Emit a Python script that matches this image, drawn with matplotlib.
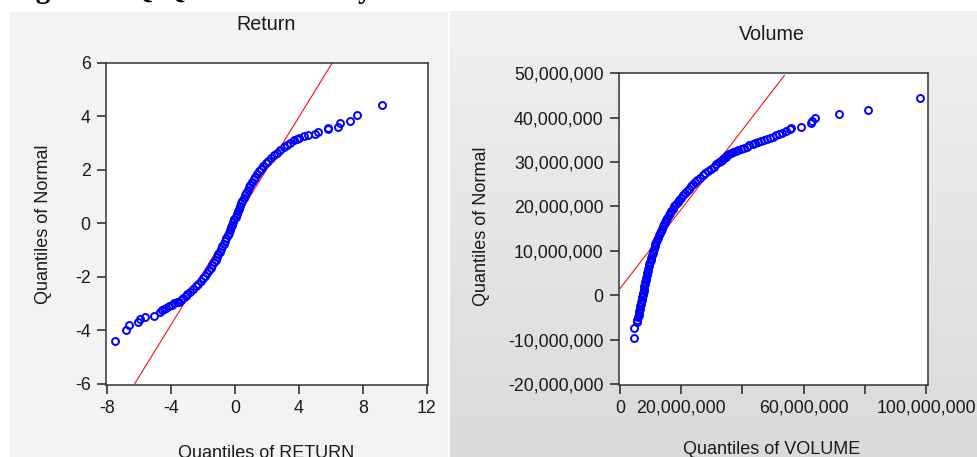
import matplotlib
matplotlib.use("Agg")
import matplotlib.pyplot as plt
import numpy as np
from matplotlib.patches import Rectangle

plt.rcParams['font.family'] = ['Liberation Sans', 'DejaVu Sans']

# ---------------- data ----------------
# Return panel: x = quantiles of RETURN, y = quantiles of Normal
ret_x = [-7.54, -6.81, -6.63, -6.10, -5.94, -5.63, -5.10, -4.73, -4.55, -4.48,
         -4.33, -4.15, -3.96, -3.80, -3.65, -3.54, -3.40, -3.23, -3.10,
         -2.98, -2.80, -2.62, -2.46, -2.31, -2.16, -2.01, -1.88, -1.76, -1.64,
         -1.53, -1.42, -1.32, -1.22, -1.13, -1.04, -0.95, -0.87, -0.79, -0.71,
         -0.63, -0.55, -0.47, -0.40, -0.32, -0.25, -0.18, -0.11, -0.04, 0.03,
         0.10, 0.17, 0.24, 0.31, 0.38, 0.45, 0.53, 0.61, 0.69, 0.78,
         0.87, 0.96, 1.06, 1.16, 1.27, 1.39, 1.51, 1.64, 1.78, 1.93,
         2.09, 2.26, 2.44, 2.63, 2.83, 3.04, 3.25, 3.45,
         3.69, 3.85, 4.02, 4.31, 4.55, 5.00, 5.20, 5.79, 5.79, 6.46,
         6.60, 7.19, 7.65, 9.17]
ret_y = [-4.39, -4.00, -3.79, -3.69, -3.58, -3.51, -3.46, -3.32, -3.25, -3.21,
         -3.15, -3.10, -3.05, -2.99, -2.95, -2.92, -2.86, -2.80, -2.73,
         -2.65, -2.55, -2.45, -2.35, -2.25, -2.15, -2.05, -1.95, -1.85, -1.75,
         -1.65, -1.55, -1.45, -1.35, -1.25, -1.15, -1.05, -0.95, -0.85, -0.75,
         -0.65, -0.55, -0.45, -0.35, -0.25, -0.15, -0.05, 0.05, 0.15, 0.25,
         0.35, 0.45, 0.55, 0.65, 0.75, 0.85, 0.95, 1.05, 1.15, 1.25,
         1.35, 1.45, 1.55, 1.65, 1.75, 1.85, 1.95, 2.05, 2.15, 2.25,
         2.35, 2.45, 2.55, 2.65, 2.75, 2.85, 2.93, 3.00,
         3.12, 3.15, 3.19, 3.27, 3.30, 3.34, 3.43, 3.52, 3.58, 3.61,
         3.74, 3.83, 4.04, 4.43]
ret_line_x = [-6.29, 6.08]
ret_line_y = [-6.0, 6.0]

# Volume panel (millions): x = quantiles of VOLUME, y = quantiles of Normal
vol_x_m = [4.58, 4.58, 5.45, 5.70,
           5.90, 6.05, 6.20, 6.35, 6.50, 6.65, 6.80, 6.95, 7.10, 7.25,
           7.40, 7.55, 7.70, 7.85, 8.00, 8.15, 8.30, 8.45, 8.60, 8.75,
           8.90, 9.07, 9.25, 9.42, 9.60, 9.80, 10.00, 10.20, 10.40, 10.62,
           10.85, 11.07, 11.30, 11.55, 11.80, 12.07, 12.35, 12.65, 12.95, 13.27,
           13.60, 13.95, 14.30, 14.70, 15.10, 15.50, 15.90, 16.35, 16.80, 17.30,
           17.80, 18.30, 18.80, 19.35, 19.90, 20.50, 21.10, 21.75, 22.40, 23.10,
           23.80, 24.55, 25.30, 26.15, 27.00, 27.90, 28.80, 29.70, 30.60, 31.50,
           32.40, 32.85, 33.25, 33.70, 34.10, 34.60, 35.10, 35.60, 36.20, 37.00,
           37.80, 38.60, 39.50, 40.40, 41.40, 42.30, 43.30, 44.20, 45.10, 46.00,
           47.00, 48.00, 49.00, 50.00, 51.00, 52.00, 53.00, 54.30, 55.50, 56.00,
           59.05, 62.40, 62.85, 63.70, 71.50, 81.00, 98.00]
vol_y_m = [-9.6, -7.4, -6.1, -5.6,
           -5.0, -4.5, -4.0, -3.5, -3.0, -2.5, -2.0, -1.5, -1.0, -0.5,
           0.0, 0.5, 1.0, 1.5, 2.0, 2.5, 3.0, 3.5, 4.0, 4.5,
           5.0, 5.5, 6.0, 6.5, 7.0, 7.5, 8.0, 8.5, 9.0, 9.5,
           10.0, 10.5, 11.0, 11.5, 12.0, 12.5, 13.0, 13.5, 14.0, 14.5,
           15.0, 15.5, 16.0, 16.5, 17.0, 17.5, 18.0, 18.5, 19.0, 19.5,
           20.0, 20.5, 21.0, 21.5, 22.0, 22.5, 23.0, 23.5, 24.0, 24.5,
           25.0, 25.5, 26.0, 26.5, 27.0, 27.5, 28.0, 28.5, 29.0, 29.5,
           30.0, 30.25, 30.5, 30.75, 31.0, 31.25, 31.5, 31.75, 32.0, 32.25,
           32.5, 32.75, 33.0, 33.25, 33.5, 33.75, 34.0, 34.25, 34.5, 34.75,
           35.0, 35.25, 35.5, 35.75, 36.0, 36.3, 36.6, 37.0, 37.4, 37.7,
           38.0, 38.7, 39.3, 40.0, 40.9, 41.8, 44.4]
vol_line_x_m = [0.0, 53.7]
vol_line_y_m = [1.5, 49.5]

ret_xticks = [-8, -4, 0, 4, 8, 12]
ret_yticks = [-6, -4, -2, 0, 2, 4, 6]
vol_xticks_m = [0, 20, 40, 60, 80, 100]
vol_xticklabels = ['0', '20,000,000', '', '60,000,000', '', '100,000,000']
vol_yticks_m = [-20, -10, 0, 10, 20, 30, 40, 50]

# ---------------- figure ----------------
W, H = 978, 457
fig = plt.figure(figsize=(W / 100, H / 100), dpi=100)
fig.patch.set_facecolor('white')

# panel backgrounds
fig.patches.append(Rectangle((10 / W, 0), (448 - 10) / W, (H - 12) / H,
                             transform=fig.transFigure, facecolor='#f3f3f3',
                             edgecolor='none', zorder=-10))
bg = fig.add_axes([450 / W, 0, (W - 450) / W, (H - 11) / H], zorder=-5)
grad = np.linspace(0.945, 0.855, 256).reshape(-1, 1)
bg.imshow(np.dstack([grad, grad, grad]), aspect='auto', extent=[0, 1, 0, 1])
bg.set_axis_off()

# cut-off caption at the very top (only its descenders show)
fig.text(10 / W, 1 + 2.5 / H, 'Figure 2: Q-Q Chart of Daily Return and Volume',
         family=['Liberation Serif', 'DejaVu Serif'], fontsize=21,
         fontweight='bold', ha='left', va='baseline', color='black')

tick_kw = dict(direction='out', length=6.5, width=1.1, colors='#222222',
               labelsize=12.8, labelcolor='#1a1a1a', pad=4.5)


def style(ax):
    ax.set_facecolor('white')
    for s in ax.spines.values():
        s.set_linewidth(1.1)
        s.set_color('#333333')
    ax.tick_params(**tick_kw)
    ax.grid(False)


MS, MEW = 5.0, 1.4

# ---- Return panel ----
ax1 = fig.add_axes([106 / W, 1 - 385 / H, 321.7 / W, 322.3 / H], zorder=1)
style(ax1)
ax1.plot(ret_line_x, ret_line_y, color='#ff0000', lw=0.75, zorder=2)
ax1.plot(ret_x, ret_y, 'o', mfc='none', mec='#0000ff', ms=MS, mew=MEW,
         zorder=3)
ax1.set_xlim(-8.08, 12.06)
ax1.set_ylim(-6.04, 6.01)
ax1.set_xticks(ret_xticks)
ax1.set_yticks(ret_yticks)
ax1.set_xticklabels([str(t) for t in ret_xticks])
ax1.set_yticklabels([str(t) for t in ret_yticks])
ax1.set_ylabel('Quantiles of Normal', fontsize=13, color='#1a1a1a', va='center')
ax1.yaxis.set_label_coords(-0.193, 0.5)
ax1.set_xlabel('Quantiles of RETURN', fontsize=13, color='#1a1a1a', va='center')
ax1.xaxis.set_label_coords(0.497, -0.212)
ax1.text(0.497, 1.12, 'Return', transform=ax1.transAxes, ha='center',
         va='center', fontsize=14.2, color='#1a1a1a')

# ---- Volume panel ----
M = 1e6
ax2 = fig.add_axes([619 / W, 1 - 384.5 / H, 308.7 / W, 311.8 / H], zorder=1)
style(ax2)
ax2.plot([v * M for v in vol_line_x_m], [v * M for v in vol_line_y_m],
         color='#ff0000', lw=0.75, zorder=2)
ax2.plot([v * M for v in vol_x_m], [v * M for v in vol_y_m], 'o', mfc='none',
         mec='#0000ff', ms=MS, mew=MEW, zorder=3)
ax2.set_xlim(-0.33 * M, 100.55 * M)
ax2.set_ylim(-20.1 * M, 50.13 * M)
ax2.set_xticks([t * M for t in vol_xticks_m])
ax2.set_xticklabels(vol_xticklabels)
ax2.set_yticks([t * M for t in vol_yticks_m])
ax2.set_yticklabels([f'{int(t * M):,}' for t in vol_yticks_m])
ax2.set_ylabel('Quantiles of Normal', fontsize=13, color='#1a1a1a', va='center')
ax2.yaxis.set_label_coords(-0.447, 0.506)
ax2.set_xlabel('Quantiles of VOLUME', fontsize=13, color='#1a1a1a', va='center')
ax2.xaxis.set_label_coords(0.496, -0.21)
ax2.text(0.496, 1.122, 'Volume', transform=ax2.transAxes, ha='center',
         va='center', fontsize=14.2, color='#1a1a1a')

fig.savefig('out.png', dpi=100)
